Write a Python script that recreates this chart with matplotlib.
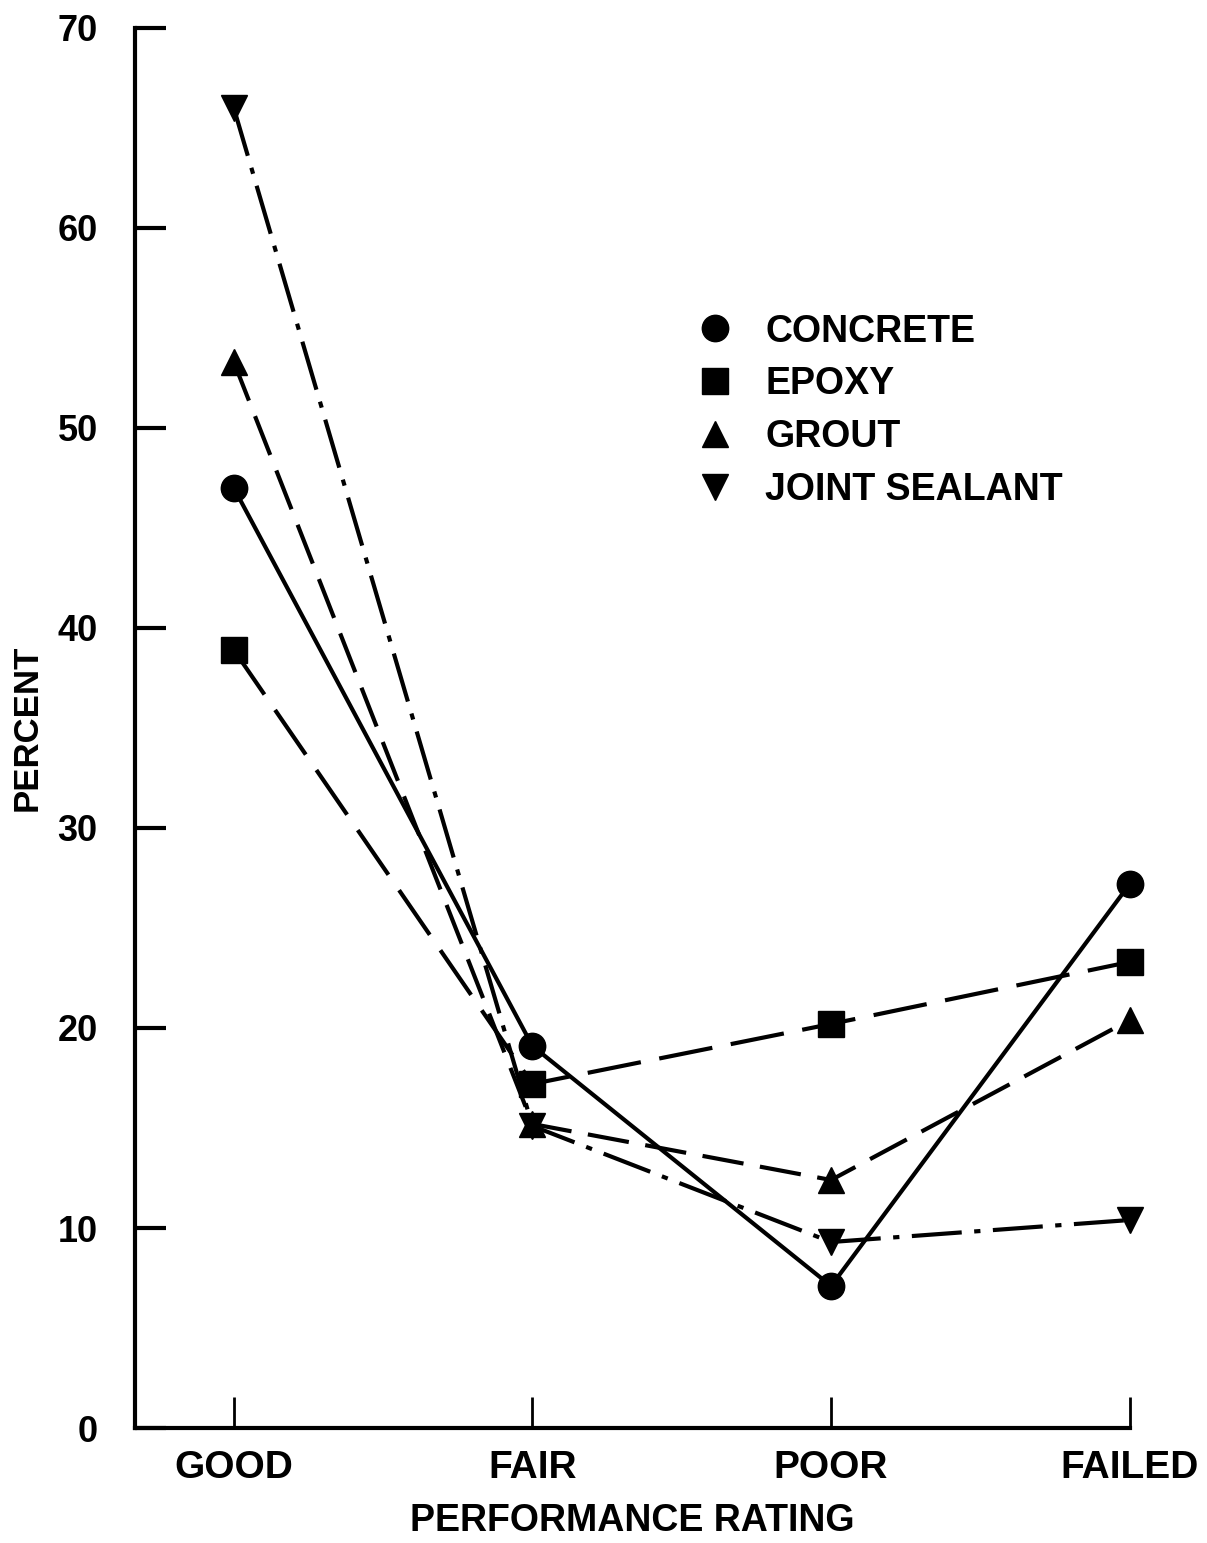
import matplotlib
matplotlib.use("Agg")
import matplotlib.pyplot as plt
from matplotlib.lines import Line2D

# categories and series
ratings = ["GOOD", "FAIR", "POOR", "FAILED"]
concrete = [47.0, 19.1, 7.1, 27.2]
epoxy = [38.9, 17.2, 20.2, 23.3]
grout = [53.3, 15.2, 12.4, 20.4]
joint_sealant = [66.0, 15.1, 9.3, 10.4]

series = [
    ("CONCRETE", concrete, "o", "-"),
    ("EPOXY", epoxy, "s", (0, (13, 4.5))),
    ("GROUT", grout, "^", (0, (10, 4))),
    ("JOINT SEALANT", joint_sealant, "v", (0, (12, 3, 1.5, 3))),
]

plt.rcParams["font.family"] = ["Liberation Sans", "DejaVu Sans"]
plt.rcParams["font.weight"] = "bold"

fig = plt.figure(figsize=(12.07, 15.43), dpi=100)
ax = fig.add_axes([0.112, 0.0745, 0.824, 0.9075])

x = list(range(len(ratings)))
for name, vals, mk, ls in series:
    ax.plot(x, vals, color="black", linestyle=ls, linewidth=3,
            marker=mk, markersize=19, clip_on=False, label=name)

ax.set_xlim(-0.33, 3.0)
ax.set_ylim(0, 70)
ax.set_yticks(range(0, 71, 10))
ax.set_xticks(x)
ax.set_xticklabels(ratings, fontsize=28, fontweight="bold")
for lab in ax.get_yticklabels():
    lab.set_fontsize(26)
    lab.set_fontweight("bold")

ax.spines["top"].set_visible(False)
ax.spines["right"].set_visible(False)
ax.spines["left"].set_linewidth(3)
ax.spines["bottom"].set_linewidth(3)
ax.tick_params(axis="y", direction="in", length=22, width=3, pad=27)
ax.tick_params(axis="x", direction="in", length=22, width=2, pad=16)

ax.set_ylabel("PERCENT", fontsize=25, fontweight="bold")
ax.yaxis.set_label_coords(-0.092, 0.5)
ax.set_xlabel("PERFORMANCE RATING", fontsize=27, fontweight="bold", labelpad=12)

handles = [Line2D([], [], color="black", marker=mk, linestyle="none",
                  markersize=19) for _, _, mk, _ in series]
ax.legend(handles, [s[0] for s in series], loc="upper left",
          bbox_to_anchor=(0.53, 0.82), frameon=False,
          prop={"weight": "bold", "size": 27}, handletextpad=0.85,
          labelspacing=0.45, handlelength=1.0)

fig.savefig("out.png", dpi=100)
